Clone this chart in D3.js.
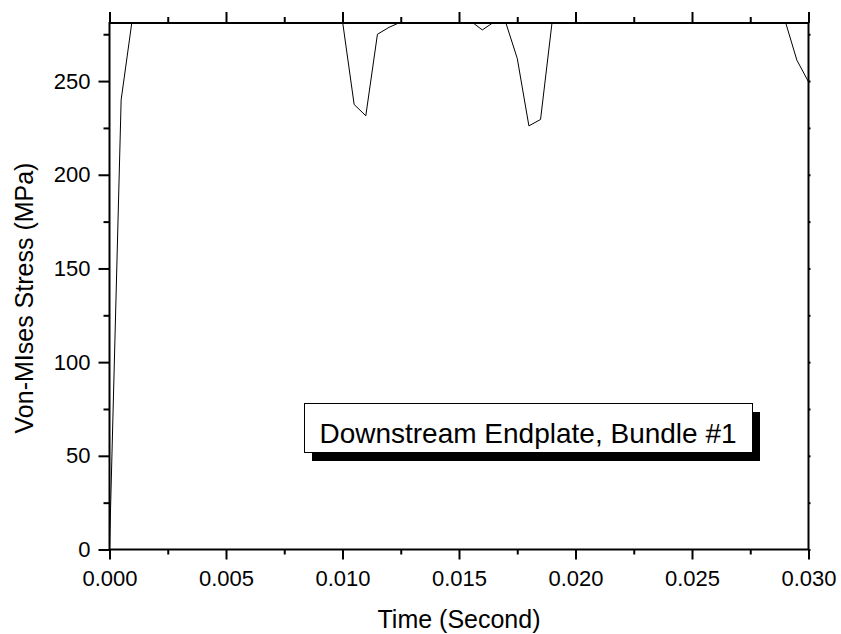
<!DOCTYPE html>
<html>
<head>
<meta charset="utf-8">
<script src="https://cdn.jsdelivr.net/npm/d3@7"></script>
<style>
  body { margin: 0; background: #fff; }
  svg { display: block; font-family: "Liberation Sans", Arial, Helvetica, sans-serif; }
</style>
</head>
<body>
<div id="chart"></div>
<script>
// time (s) and von-mises stress (MPa); values above the frame are clipped
const times = [0, 0.0005, 0.001, 0.0015, 0.002, 0.0025, 0.003, 0.0035, 0.004, 0.0045, 0.005,
  0.0055, 0.006, 0.0065, 0.007, 0.0075, 0.008, 0.0085, 0.009, 0.0095, 0.010,
  0.0105, 0.011, 0.0115, 0.012, 0.0125, 0.013, 0.0135, 0.014, 0.0145, 0.015,
  0.0155, 0.016, 0.0165, 0.017, 0.0175, 0.018, 0.0185, 0.019, 0.0195, 0.020,
  0.0205, 0.021, 0.0215, 0.022, 0.0225, 0.023, 0.0235, 0.024, 0.0245, 0.025,
  0.0255, 0.026, 0.0265, 0.027, 0.0275, 0.028, 0.0285, 0.029, 0.0295, 0.030];
const stress = [0, 240, 285, 285, 285, 285, 285, 285, 285, 285, 285,
  285, 285, 285, 285, 285, 285, 285, 285, 285, 282,
  237.5, 231.5, 275, 278.7, 281.5, 285, 285, 285, 285, 285,
  282, 277.3, 281.5, 281.5, 262.1, 226.1, 229.5, 282, 285, 285,
  285, 285, 285, 285, 285, 285, 285, 285, 285, 285,
  285, 285, 285, 285, 285, 285, 285, 282, 261.2, 249.6];

const xMajor = [0, 0.005, 0.010, 0.015, 0.020, 0.025, 0.030];
const xMinor = [0.0025, 0.0075, 0.0125, 0.0175, 0.0225, 0.0275];
const yMajor = [0, 50, 100, 150, 200, 250];
const yMinor = [25, 75, 125, 175, 225, 275];

const legendText = 'Downstream Endplate, Bundle #1';
const xTitle = 'Time (Second)';
const yTitle = 'Von-MIses Stress (MPa)';

const w = 841, h = 634;
const pLeft = 109.5, pRight = 808.5, pTop = 23, pBottom = 549.5;

const svg = d3.select('#chart').append('svg')
  .attr('width', w)
  .attr('height', h);

const x = d3.scaleLinear().domain([0, 0.030]).range([pLeft, pRight]);
const y = d3.scaleLinear().domain([0, 281]).range([pBottom, pTop]);

// clip for the curve
svg.append('clipPath').attr('id', 'clip')
  .append('rect')
  .attr('x', pLeft).attr('y', pTop)
  .attr('width', pRight - pLeft).attr('height', pBottom - pTop);

const data = times.map((t, i) => ({t: t, v: stress[i]}));
const line = d3.line().x(d => x(d.t)).y(d => y(d.v));

svg.append('path')
  .datum(data)
  .attr('clip-path', 'url(#clip)')
  .attr('d', line)
  .attr('fill', 'none')
  .attr('stroke', '#000')
  .attr('stroke-width', 1);

// legend box with drop shadow
const lx = 304, ly = 403, lw = 448, lh = 49;
svg.append('rect')
  .attr('x', lx + 8).attr('y', ly + 9)
  .attr('width', lw).attr('height', lh)
  .attr('fill', '#000');
svg.append('rect')
  .attr('x', lx + 0.5).attr('y', ly + 0.5)
  .attr('width', lw).attr('height', lh)
  .attr('fill', '#fff')
  .attr('stroke', '#000')
  .attr('stroke-width', 1);
svg.append('text')
  .attr('x', lx + lw / 2)
  .attr('y', 443)
  .attr('text-anchor', 'middle')
  .style('font-size', '28px')
  .text(legendText);

// axes
function styleAxis(g) {
  g.select('.domain').remove();
  g.selectAll('.tick line').attr('stroke', '#000').attr('stroke-width', 2);
  g.selectAll('.tick text').attr('fill', '#000').style('font-size', '22px');
}

svg.append('g').attr('transform', `translate(0,${pBottom})`)
  .call(d3.axisBottom(x).tickValues(xMinor).tickSize(5).tickFormat(''))
  .call(styleAxis);
svg.append('g').attr('transform', `translate(0,${pBottom})`)
  .call(d3.axisBottom(x).tickValues(xMajor).tickSize(10).tickPadding(11).tickFormat(d3.format('.3f')))
  .call(styleAxis);

svg.append('g').attr('transform', `translate(0,${pTop})`)
  .call(d3.axisTop(x).tickValues(xMinor).tickSize(6).tickFormat(''))
  .call(styleAxis);
svg.append('g').attr('transform', `translate(0,${pTop})`)
  .call(d3.axisTop(x).tickValues(xMajor).tickSize(11).tickFormat(''))
  .call(styleAxis);

svg.append('g').attr('transform', `translate(${pLeft},0)`)
  .call(d3.axisLeft(y).tickValues(yMinor).tickSize(6).tickFormat(''))
  .call(styleAxis);
svg.append('g').attr('transform', `translate(${pLeft},0)`)
  .call(d3.axisLeft(y).tickValues(yMajor).tickSize(11).tickPadding(8).tickFormat(d3.format('d')))
  .call(styleAxis);

svg.append('g').attr('transform', `translate(${pRight},0)`)
  .call(d3.axisRight(y).tickValues(yMajor.concat(yMinor)).tickSize(2).tickFormat(''))
  .call(styleAxis);

// frame
svg.append('rect')
  .attr('x', pLeft).attr('y', pTop)
  .attr('width', pRight - pLeft).attr('height', pBottom - pTop)
  .attr('fill', 'none')
  .attr('stroke', '#000')
  .attr('stroke-width', 2);

// titles
svg.append('text')
  .attr('x', (pLeft + pRight) / 2)
  .attr('y', 628)
  .attr('text-anchor', 'middle')
  .style('font-size', '25px')
  .text(xTitle);

svg.append('text')
  .attr('transform', 'rotate(-90)')
  .attr('x', -298)
  .attr('y', 33)
  .attr('text-anchor', 'middle')
  .style('font-size', '25px')
  .text(yTitle);
</script>
</body>
</html>
